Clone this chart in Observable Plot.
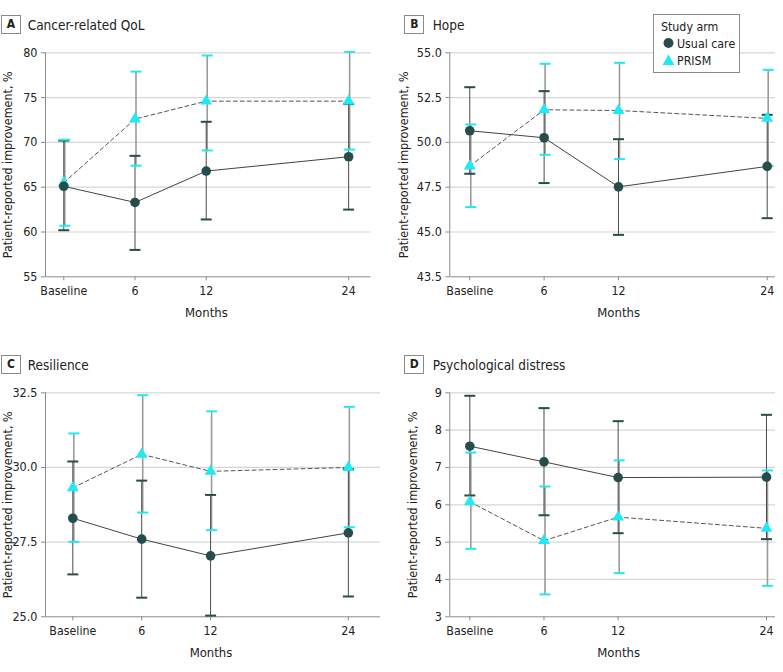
<!DOCTYPE html>
<html>
<head>
<meta charset="utf-8">
<script src="https://cdn.jsdelivr.net/npm/d3@7"></script>
<script src="https://cdn.jsdelivr.net/npm/@observablehq/plot@0.6"></script>
<style>
  html, body { margin: 0; padding: 0; background: #fff; }
  #root { position: relative; width: 783px; height: 672px; overflow: hidden;
          font-family: "DejaVu Sans Condensed", "Liberation Sans Narrow", "Roboto", sans-serif; color: #222; }
  .panel { position: absolute; }
  .tag { position: absolute; box-sizing: border-box; border: 1px solid #8a8a8a; font-weight: bold;
         font-size: 12px; text-align: center; line-height: 17px; width: 20px; height: 19px; background: #fff; }
  .ttl { position: absolute; font-size: 13.5px; line-height: 18px; white-space: nowrap; }
  #legend { position: absolute; left: 653px; top: 14px; width: 87px; height: 59px; box-sizing: border-box;
            border: 1px solid #8a8a8a; background: #fff; font-size: 12.3px; }
  #legend .row { position: absolute; left: 0; white-space: nowrap; line-height: 16px; }
</style>
</head>
<body>
<div id="root"></div>
<script>
// ---------- data ----------
const months = [0, 6, 12, 24];
const monthLabels = ["Baseline", "6", "12", "24"];
const arms = ["Usual care", "PRISM"];

// A: Cancer-related QoL
const qolUsual   = [65.1, 63.3, 66.8, 68.4];
const qolUsualLo = [60.2, 58.0, 61.4, 62.5];
const qolUsualHi = [70.2, 68.5, 72.3, 74.3];
const qolPrism   = [65.5, 72.6, 74.6, 74.6];
const qolPrismLo = [60.7, 67.4, 69.1, 69.2];
const qolPrismHi = [70.3, 77.9, 79.7, 80.1];
const qolTicks = [55, 60, 65, 70, 75, 80];
const qolTickLabels = ["55", "60", "65", "70", "75", "80"];

// B: Hope
const hopeUsual   = [50.65, 50.26, 47.52, 48.66];
const hopeUsualLo = [48.25, 47.73, 44.84, 45.77];
const hopeUsualHi = [53.08, 52.86, 50.18, 51.54];
const hopePrism   = [48.68, 51.82, 51.78, 51.34];
const hopePrismLo = [46.39, 49.31, 49.07, 48.68];
const hopePrismHi = [51.0, 54.39, 54.44, 54.05];
const hopeTicks = [42.5, 45, 47.5, 50, 52.5, 55];
const hopeTickLabels = ["43.5", "45.0", "47.5", "50.0", "52.5", "55.0"];

// C: Resilience
const resUsual   = [28.3, 27.6, 27.04, 27.81];
const resUsualLo = [26.42, 25.64, 25.04, 25.68];
const resUsualHi = [30.2, 29.56, 29.08, 29.95];
const resPrism   = [29.32, 30.44, 29.87, 30.0];
const resPrismLo = [27.51, 28.49, 27.9, 28.0];
const resPrismHi = [31.14, 32.42, 31.88, 32.03];
const resTicks = [25, 27.5, 30, 32.5];
const resTickLabels = ["25.0", "27.5", "30.0", "32.5"];

// D: Psychological distress
const disUsual   = [7.57, 7.15, 6.73, 6.74];
const disUsualLo = [6.25, 5.72, 5.24, 5.08];
const disUsualHi = [8.92, 8.59, 8.24, 8.41];
const disPrism   = [6.08, 5.04, 5.67, 5.37];
const disPrismLo = [4.82, 3.6, 4.17, 3.83];
const disPrismHi = [7.4, 6.49, 7.19, 6.92];
const disTicks = [3, 4, 5, 6, 7, 8, 9];
const disTickLabels = ["3", "4", "5", "6", "7", "8", "9"];

// ---------- styling ----------
const DARK = "#264d4b";
const CYAN = "#1eeaf4";
const FONT = '"DejaVu Sans Condensed", "Liberation Sans Narrow", "Roboto", sans-serif';

const capSymbol = {
  draw(context, size) {
    const w = Math.sqrt(size / Math.PI);
    context.moveTo(-w, 0);
    context.lineTo(w, 0);
  }
};

function rows(arm, v, lo, hi) {
  return months.map((m, i) => ({ month: m, arm, value: v[i], lo: lo[i], hi: hi[i] }));
}

const panels = [
  { tag: "A", title: "Cancer-related QoL", left: 0, top: 0, width: 390,
    mL: 45, mR: 19.3, xDomain: [-1.54, 25.9], yDomain: [55, 80],
    ticks: qolTicks, tickLabels: qolTickLabels, labelDx: -37, monthsDx: -2,
    usual: rows(arms[0], qolUsual, qolUsualLo, qolUsualHi),
    prism: rows(arms[1], qolPrism, qolPrismLo, qolPrismHi) },
  { tag: "B", title: "Hope", left: 390, top: 0, width: 393,
    mL: 59.3, mR: 8, xDomain: [-1.61, 24.67], yDomain: [42.5, 55],
    ticks: hopeTicks, tickLabels: hopeTickLabels, labelDx: -45.5, monthsDx: 6,
    usual: rows(arms[0], hopeUsual, hopeUsualLo, hopeUsualHi),
    prism: rows(arms[1], hopePrism, hopePrismLo, hopePrismHi) },
  { tag: "C", title: "Resilience", left: 0, top: 340, width: 390,
    mL: 45, mR: 10, xDomain: [-2.38, 26.8], yDomain: [25, 32.5],
    ticks: resTicks, tickLabels: resTickLabels, labelDx: -37, monthsDx: -2,
    usual: rows(arms[0], resUsual, resUsualLo, resUsualHi),
    prism: rows(arms[1], resPrism, resPrismLo, resPrismHi) },
  { tag: "D", title: "Psychological distress", left: 390, top: 340, width: 393,
    mL: 59.3, mR: 8, xDomain: [-1.62, 24.73], yDomain: [3, 9],
    ticks: disTicks, tickLabels: disTickLabels, labelDx: -37, monthsDx: 6,
    usual: rows(arms[0], disUsual, disUsualLo, disUsualHi),
    prism: rows(arms[1], disPrism, disPrismLo, disPrismHi) }
];

const root = document.getElementById("root");

for (const p of panels) {
  const H = 336;
  const chart = Plot.plot({
    width: p.width,
    height: H,
    marginTop: 52.3,
    marginBottom: 59.7,
    marginLeft: p.mL,
    marginRight: p.mR,
    style: { fontFamily: FONT, fontSize: "12.3px", background: "transparent", overflow: "visible" },
    x: { domain: p.xDomain },
    y: { domain: p.yDomain },
    marks: [
      Plot.gridY(p.ticks.slice(1), { stroke: "#d6d6d6", strokeOpacity: 1, strokeWidth: 1.2 }),
      Plot.ruleY([p.yDomain[0]], { stroke: "#8a8a8a", strokeWidth: 1 }),
      Plot.ruleX([p.xDomain[0]], { stroke: "#8a8a8a", strokeWidth: 1 }),
      Plot.axisY({ ticks: p.ticks, tickFormat: (d) => p.tickLabels[p.ticks.indexOf(d)],
        tickSize: 4, tickPadding: 4, stroke: "#8a8a8a", fill: "#222", label: null, fontSize: 12.5 }),
      Plot.axisX({ ticks: months, tickFormat: (d) => monthLabels[months.indexOf(d)],
        tickSize: 4, tickPadding: 5, stroke: "#8a8a8a", fill: "#222", label: null, fontSize: 12.3 }),
      Plot.text(["Patient-reported improvement, %"], { frameAnchor: "left", rotate: -90,
        dx: p.labelDx, fill: "#222", fontSize: 12.4, textAnchor: "middle" }),
      Plot.text(["Months"], { frameAnchor: "bottom", dy: 35.7, dx: p.monthsDx,
        fill: "#222", fontSize: 13, lineAnchor: "middle" }),
      // whiskers
      Plot.ruleX(p.prism, { x: "month", y1: "lo", y2: "hi", stroke: "#9a9a9a", strokeWidth: 1.6, dx: 1 }),
      Plot.ruleX(p.usual, { x: "month", y1: "lo", y2: "hi", stroke: "#4a4a4a", strokeWidth: 1 }),
      // connecting lines
      Plot.line(p.usual, { x: "month", y: "value", stroke: "#444", strokeWidth: 1 }),
      Plot.line(p.prism, { x: "month", y: "value", stroke: "#555", strokeWidth: 1, strokeDasharray: "4,3" }),
      // caps
      Plot.dot(p.usual, { x: "month", y: "lo", symbol: capSymbol, r: 5.5, stroke: DARK, strokeWidth: 2, fill: "none" }),
      Plot.dot(p.usual, { x: "month", y: "hi", symbol: capSymbol, r: 5.5, stroke: DARK, strokeWidth: 2, fill: "none" }),
      Plot.dot(p.prism, { x: "month", y: "lo", symbol: capSymbol, r: 5.5, stroke: CYAN, strokeWidth: 2, fill: "none", dx: 1 }),
      Plot.dot(p.prism, { x: "month", y: "hi", symbol: capSymbol, r: 5.5, stroke: CYAN, strokeWidth: 2, fill: "none", dx: 1 }),
      // points
      Plot.dot(p.prism, { x: "month", y: "value", symbol: "triangle", r: 4.4, fill: CYAN, stroke: "none" }),
      Plot.dot(p.usual, { x: "month", y: "value", symbol: "circle", r: 4.8, fill: DARK, stroke: "none" })
    ]
  });
  const wrap = document.createElement("div");
  wrap.className = "panel";
  wrap.style.left = p.left + "px";
  wrap.style.top = p.top + "px";
  wrap.appendChild(chart);
  root.appendChild(wrap);

  const tag = document.createElement("div");
  tag.className = "tag";
  tag.textContent = p.tag;
  tag.style.left = (p.left + (p.left ? 14.3 : 1)) + "px";
  tag.style.top = (p.top + 15) + "px";
  root.appendChild(tag);

  const ttl = document.createElement("div");
  ttl.className = "ttl";
  ttl.textContent = p.title;
  ttl.style.left = (p.left + (p.left ? 42.7 : 27.7)) + "px";
  ttl.style.top = (p.top + 15.5) + "px";
  root.appendChild(ttl);
}

// legend
const legend = document.createElement("div");
legend.id = "legend";
legend.innerHTML =
  '<div class="row" style="left:7px;top:4px">Study arm</div>' +
  '<div class="row" style="left:8px;top:21px"><svg width="14" height="14" style="vertical-align:-2px"><circle cx="6.5" cy="7" r="5" fill="' + DARK + '"/></svg><span style="margin-left:1px">' + arms[0] + '</span></div>' +
  '<div class="row" style="left:8px;top:38px"><svg width="14" height="14" style="vertical-align:-2px"><path d="M6.5,1.5L12.5,12L0.5,12Z" fill="' + CYAN + '"/></svg><span style="margin-left:1px">' + arms[1] + '</span></div>';
root.appendChild(legend);
</script>
</body>
</html>
